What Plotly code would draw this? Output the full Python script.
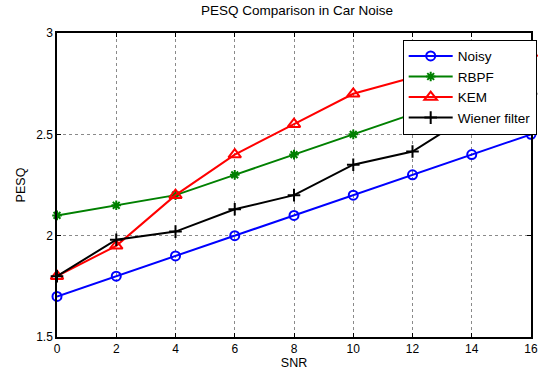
import plotly.graph_objects as go

snr = [0, 2, 4, 6, 8, 10, 12, 14, 16]
noisy = [1.7, 1.8, 1.9, 2.0, 2.1, 2.2, 2.3, 2.4, 2.5]
rbpf = [2.1, 2.15, 2.2, 2.3, 2.4, 2.5, 2.6, 2.7, 2.8]
kem = [1.8, 1.95, 2.2, 2.4, 2.55, 2.7, 2.78, 2.85, 2.9]
wiener = [1.8, 1.98, 2.02, 2.13, 2.2, 2.35, 2.415, 2.6, 2.7]

font = "Liberation Sans, Arial, sans-serif"
fig = go.Figure()
series = [
    ("Noisy", noisy, "#0000ff", "circle-open", 9),
    ("RBPF", rbpf, "#008000", "asterisk-open", 8),
    ("KEM", kem, "#ff0000", "triangle-up-open", 11),
    ("Wiener filter", wiener, "#000000", "cross-thin-open", 9),
]
for name, vals, col, sym, sz in series:
    fig.add_trace(go.Scatter(
        x=snr, y=vals, name=name, mode="lines+markers",
        line=dict(color=col, width=2),
        marker=dict(symbol=sym, size=sz, color=col, line=dict(color=col, width=2)),
        cliponaxis=False,
    ))

axis_common = dict(
    showline=True, linecolor="black", linewidth=1.5, mirror="ticks",
    ticks="inside", ticklen=4, tickcolor="black",
    showgrid=True, gridcolor="#8a8a8a", griddash="dot", gridwidth=1,
    zeroline=False, tickfont=dict(family=font, size=12, color="black"),
)
fig.update_xaxes(range=[0, 16], tickvals=snr, ticktext=[str(v) for v in snr],
                 title=dict(text="SNR", font=dict(family=font, size=12.5, color="black"), standoff=2),
                 **axis_common)
fig.update_yaxes(range=[1.5, 3], tickvals=[1.5, 2, 2.5, 3], ticktext=["1.5", "2", "2.5", "3"],
                 title=dict(text="PESQ", font=dict(family=font, size=12.5, color="black"), standoff=8),
                 **axis_common)

fig.update_layout(
    width=545, height=376,
    margin=dict(l=57, r=8, t=33, b=39),
    paper_bgcolor="white", plot_bgcolor="white",
    title=dict(text="PESQ Comparison in Car Noise", x=0.545, xanchor="center",
               y=0.985, yanchor="top", font=dict(family=font, size=13.5, color="black")),
    legend=dict(x=1.012, y=0.978, xanchor="right", yanchor="top",
                bgcolor="white", bordercolor="black", borderwidth=1,
                font=dict(family=font, size=13.5, color="black"),
                tracegroupgap=0, itemwidth=44),
    showlegend=True,
)

fig.write_html("out.html")
